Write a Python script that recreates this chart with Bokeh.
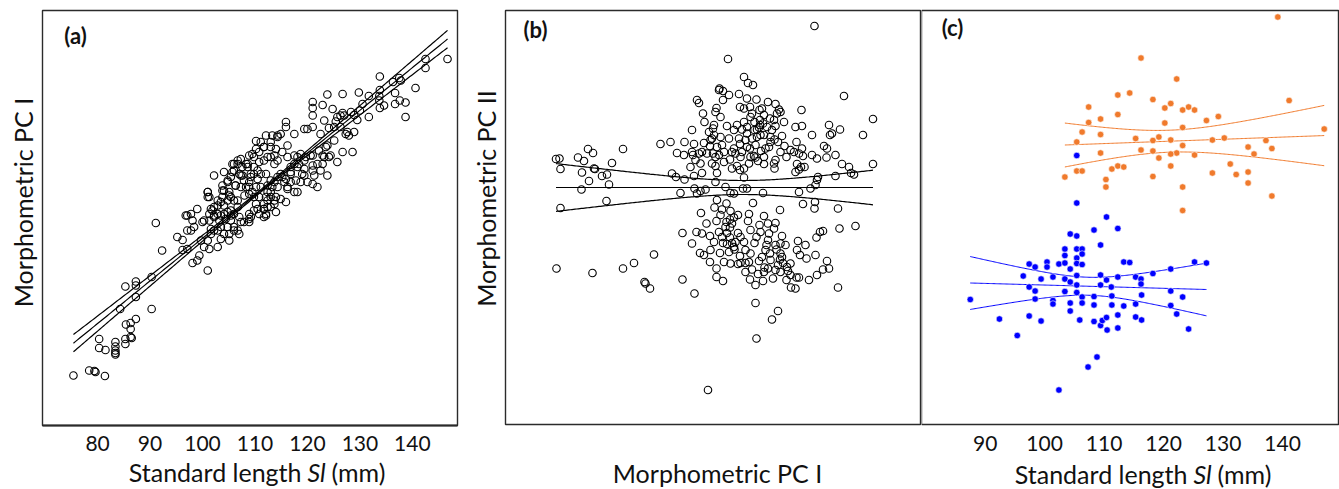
import numpy as np
from bokeh.plotting import figure
from bokeh.layouts import row
from bokeh.models import Range1d, Label
from bokeh.embed import file_html
from bokeh.resources import INLINE

FONT = "Lato"
INK = "#111111"
FRAME = "#2b2b2b"
ORANGE = "#F07A2C"
BLUE = "#0000FF"
HEIGHT = 489

# ---------------------------------------------------------------- panel (a)
# standard length (mm) and morphometric PC I score of every fish
a_sl = [
    75.4, 78.4, 79.4, 79.6, 81.4, 80.3, 80.3, 81.5, 83.4, 83.4,
    83.4, 83.4, 83.4, 85.3, 85.3, 85.4, 86.3, 86.3, 86.3, 87.3,
    86.5, 85.3, 84.3, 87.3, 87.3, 87.3, 90.3, 90.3, 91.1, 92.3,
    95.2, 96.2, 97.1, 97.8, 99.0, 98.1, 97.8, 97.1, 96.2, 97.1,
    98.1, 99.0, 99.4, 100.3, 101.0, 101.0, 101.3, 101.6, 102.2, 102.9,
    103.5, 104.1, 105.1, 105.1, 106.0, 106.0, 106.7, 107.0, 105.4, 104.4,
    104.8, 103.5, 102.9, 101.6, 99.7,
    115.9, 115.9, 117.5, 114.9, 113.3, 114.3, 112.1, 119.4, 116.2, 116.2,
    115.2, 114.3, 114.0, 113.0, 111.7, 111.1, 110.2, 110.2, 109.5, 108.9,
    108.6, 109.8, 110.8, 111.7, 112.4, 113.0, 113.7, 113.7, 112.1, 111.1,
    110.5, 109.8, 109.2, 108.9, 108.3, 107.3, 106.7, 106.0, 106.0, 107.0,
    107.6, 107.9, 108.3, 108.9, 107.3, 106.3, 105.7, 105.4, 104.8, 103.8,
    104.1, 105.1, 105.4, 106.0, 106.7, 104.8, 103.8, 103.5, 102.9, 102.2,
    101.9, 101.3, 101.0, 101.0, 102.2, 96.8, 98.4, 100.0, 101.3, 102.2,
    102.9, 103.5, 104.1, 104.8, 105.4, 106.0, 107.0, 107.3, 107.9, 108.9,
    108.9, 108.9, 109.8, 110.2, 110.5, 111.7, 111.7, 110.8, 109.5, 110.2,
    111.1, 112.4, 113.0, 114.0, 113.7, 111.7, 112.1,
    126.7, 123.8, 122.9, 121.0, 121.0, 121.0, 124.8, 125.7, 126.3, 126.7,
    127.0, 128.3, 128.9, 129.5, 128.9, 127.6, 127.9, 127.3, 126.3, 125.1,
    124.1, 123.2, 121.0, 120.0, 122.5, 128.6, 126.7, 125.7, 124.1, 124.4,
    123.5, 122.9, 122.9, 122.5, 123.8, 121.0, 121.0, 121.3, 121.9, 121.0,
    120.0, 118.7, 119.0, 118.1, 118.4, 118.7, 119.7, 119.4, 117.5, 117.5,
    116.8, 116.8, 118.1, 117.5, 116.8, 116.2, 115.6, 115.2, 115.9, 114.0,
    113.7, 113.0, 112.4, 112.1, 112.4, 112.1, 114.3, 114.9, 113.3, 113.7,
    146.7, 142.5, 142.5, 140.6, 137.5, 137.8, 136.3, 136.7, 133.8, 133.8,
    133.7, 133.7, 133.8, 134.6, 136.7, 137.6, 138.7, 138.7, 131.7, 131.7,
    130.5, 129.8, 125.4, 130.0,
    105.7, 106.7, 107.6, 108.6, 109.8, 110.8, 111.7, 113.0, 114.3, 109.2,
    110.5, 107.3, 104.1, 104.8, 106.3, 103.8, 105.1, 102.9, 104.1, 101.6,
    102.2, 100.3, 103.2, 101.3, 101.0, 108.9, 108.0, 109.8, 106.7, 105.4,
    113.0, 114.3, 115.9, 116.8, 118.1, 119.4, 120.6, 122.2, 123.8, 125.1,
    117.8, 119.4, 121.0, 116.2, 114.9, 112.4, 111.7, 113.0, 109.2, 110.8,
    121.9, 123.2,
]
a_pc1 = [
    -3.00, -2.90, -2.91, -2.93, -3.01, -2.27, -2.45, -2.49, -2.33, -2.42,
    -2.50, -2.58, -2.55, -2.37, -2.27, -1.98, -2.23, -2.07, -1.95, -1.87,
    -2.25, -1.22, -1.67, -1.43, -1.20, -1.12, -1.67, -1.03, 0.05, -0.50,
    -0.23, -0.29, 0.20, 0.23, 0.33, 0.10, -0.10, -0.10, -0.49, -0.47,
    -0.75, -0.70, -0.60, -0.43, -0.90, -0.30, -0.47, -0.17, -0.10, -0.43,
    -0.27, -0.17, -0.17, -0.30, -0.10, -0.03, -0.10, -0.17, 0.10, 0.13,
    -0.03, -0.03, -0.10, -0.07, -0.30,
    2.07, 1.97, 1.83, 1.83, 1.80, 1.80, 1.80, 1.93, 1.60, 1.37,
    1.47, 1.30, 1.53, 1.57, 1.57, 1.67, 1.69, 1.53, 1.43, 1.40,
    1.17, 1.17, 1.27, 1.30, 1.37, 1.37, 1.40, 1.23, 1.03, 1.03,
    0.93, 1.03, 0.97, 0.87, 1.23, 1.33, 1.23, 1.23, 1.10, 1.03,
    1.00, 0.90, 0.77, 0.63, 0.77, 0.80, 1.07, 0.97, 0.90, 0.80,
    0.70, 0.67, 0.57, 0.50, 0.37, 0.50, 0.57, 0.47, 0.40, 0.37,
    0.30, 0.23, 0.67, 0.57, 1.00, 0.20, -0.03, 0.07, 0.10, 0.17,
    0.23, 0.20, 0.23, 0.27, 0.20, 0.23, 0.17, 0.07, 0.07, 0.23,
    0.13, 0.07, 0.30, 0.43, 0.33, 0.33, 0.43, 0.57, 0.67, 0.77,
    0.77, 0.67, 0.57, 0.57, 0.43, 0.17, 0.23,
    2.63, 2.62, 2.41, 2.47, 2.35, 2.20, 2.33, 2.17, 2.20, 2.25,
    2.20, 2.27, 2.21, 2.11, 1.87, 1.87, 1.80, 1.83, 1.97, 1.97,
    1.95, 2.10, 1.97, 1.93, 1.83, 1.47, 1.47, 1.27, 1.37, 1.40,
    1.57, 1.40, 1.23, 1.10, 1.00, 1.40, 1.20, 1.00, 0.77, 0.83,
    0.87, 0.87, 1.03, 1.37, 1.23, 1.43, 1.37, 1.13, 1.40, 1.23,
    1.17, 1.03, 0.67, 0.67, 0.87, 0.77, 0.87, 0.97, 0.47, 0.27,
    0.50, 0.67, 0.80, 0.57, 0.37, 0.20, 0.97, 1.03, 0.77, 0.87,
    3.33, 3.33, 3.15, 2.75, 2.95, 2.90, 2.87, 2.65, 2.98, 2.71,
    2.59, 2.50, 2.35, 2.40, 2.43, 2.50, 2.46, 2.17, 2.59, 2.17,
    2.43, 2.66, 2.08, 2.30,
    1.23, 1.30, 1.17, 1.23, 1.37, 1.47, 1.57, 1.67, 1.77, 1.03,
    1.10, 1.00, 1.07, 0.87, 0.80, 0.70, 0.60, 0.50, 0.40, 0.33,
    0.20, 0.10, 0.10, 0.57, 0.67, 0.77, 0.60, 0.57, 0.50, 0.30,
    0.90, 0.77, 0.93, 1.07, 1.17, 1.30, 1.40, 1.50, 1.60, 1.70,
    0.90, 1.00, 1.10, 0.73, 0.53, 0.50, 0.33, 0.37, 0.17, 0.23,
    1.23, 1.37,
]
a_sl_ticks = [80, 90, 100, 110, 120, 130, 140]

# ---------------------------------------------------------------- panel (b)
# morphometric PC I vs PC II scores
b_pc1 = [
    -3.75, -3.68, -3.66, -3.31, -3.19, -3.11, -3.01, -3.23, -2.99, -2.97,
    -2.83, -2.73, -3.09, -3.24, -2.69, -2.63, -2.41, -2.74, -3.66, -3.74,
    -3.02, -2.41, -2.19, -1.79, -1.98, -1.96, -1.87, -1.43, -1.35, -1.46,
    -1.66, -1.33,
    1.42, -0.31, 0.01, 0.09, 0.19, -0.48, -0.41, -0.29, -0.09, 0.07,
    0.26, 0.49, 0.64, 0.71, 0.67, 0.74, 0.32, 0.37, -0.07, 0.13,
    0.14, 0.33, 0.53, 0.39, 0.22, 0.01, -0.13, -0.03, 0.07, 0.22,
    0.31, 0.47, 0.57, 0.64, 0.81, 0.54, 0.41, 0.27, 0.17, 0.04,
    -0.09, -0.07, -0.19, -0.16, -0.23, -0.03, 0.07, 0.13, 0.21, 0.24,
    0.35, 0.44, 0.54, 0.62, 0.69, 0.77, 0.82, 0.86, 0.64, 0.61,
    0.62, 0.41, 0.29, 0.11, 0.01, -0.07, -0.13, -0.23, -0.27, -0.39,
    -0.49, -0.56, -0.63, -0.53, -0.56, -0.61, -0.66, -0.63, -0.69, -0.78,
    -0.81, -0.93, -0.89, -0.54, -0.56, -0.46, -0.41, -0.49, -0.59, -0.61,
    -0.33, -0.29, -0.43, -0.53, -0.67, -0.79, -0.83, -0.89, -0.99, -1.03,
    -1.01, -1.06, -1.18, -1.19, -1.18, -0.99, -0.83, -0.98, -0.86, -0.76,
    -0.93, -1.26, -0.56, -0.36, -0.26, -0.19, 0.01, -0.01, 0.07, 0.39,
    1.11, 1.34, 1.44, 1.47, 1.49, 1.37, 1.47, 1.66, 1.84, 1.67,
    1.61, 1.73, 1.71, 1.77, 1.93, 1.04, 1.17, 1.37, 1.06, 1.17,
    1.11, 1.07, 1.15, 1.22, 1.04, 1.11, 1.19, 1.97, 2.11, 2.15,
    2.21, 1.84, 2.01, 2.39, 2.59, 2.59, 1.01, 0.94, 0.27, 0.33,
    -0.53, -0.34, 0.19, 0.73, 1.19, 1.42, 1.89, -0.85, -0.58, -0.43,
    -0.26, -0.11, 0.11, 0.41, 0.09, -0.54, -0.34, -0.27, -0.19, -0.36,
    -0.27, -0.74, -0.94, -0.83, -0.67, -0.49, -0.33, -0.11, -0.27, -0.41,
    -0.33, -0.23, -0.16, -0.18, -0.29, -1.03, -0.87, -0.79, -0.67, -0.59,
    -0.47, -0.39, -0.54, -0.54, -0.41, -1.22, -0.98, -1.22, 0.04, -0.07,
    -0.06, -0.11, 0.04, 0.11, 0.17, 0.13, 0.24, 0.29, 0.31, 0.39,
    0.42, 0.49, 0.59, 0.64, 0.69, 0.73, 0.74, 0.66, 0.64, 0.46,
    0.44, 0.49, 0.34, 0.26, 0.22, 0.32, 0.49, 0.64, 0.61, 0.77,
    0.84, 0.77, 0.87, 0.89, 0.94, 0.86, 0.95, 1.04, 1.06, 1.11,
    1.31, 1.47, 1.59, 1.71, 1.67, 1.26, 1.13, 1.07, 1.24, 1.09,
    1.44, 1.46, 1.53, 1.59, 1.92, 2.24, 1.89, 0.24, 0.69, 0.57,
    0.26, -0.71, 0.79, 0.53, 0.14, -0.06, 1.16, 1.43,
    0.01, 0.17, 0.41, 0.61, -0.19, 0.07, 0.34, 0.51, 0.24, -0.06,
    0.14, 0.41, 0.74, -0.39, -0.46, -0.59, -0.73, -0.86, -0.96, -1.03,
    -0.46, -0.23, -0.43, -0.19, 0.01, 0.14, 0.37, 0.54, 0.41, 0.04,
    -0.26, -0.66, 0.74, 0.94, 0.51, 0.74,
]
b_pc2 = [
    0.57, 0.58, 0.37, 0.60, 0.53, 0.77, 0.69, 0.30, 0.38, 0.37,
    0.23, 0.26, 0.13, -0.04, 0.06, 0.49, 0.77, -0.27, -0.41, -1.62,
    -1.71, -1.62, -1.51, -1.34, -1.89, -1.92, -2.02, 0.28, 0.21, 0.91,
    0.87, 0.69,
    3.23, 2.57, 2.21, 2.09, 2.05, 1.98, 1.93, 1.85, 1.87, 1.78,
    1.76, 1.71, 1.67, 1.56, 1.48, 1.51, 1.55, 1.58, 1.61, 1.61,
    1.41, 1.35, 1.38, 1.28, 1.31, 1.31, 1.25, 1.16, 1.08, 1.15,
    1.20, 1.21, 1.15, 1.23, 1.31, 1.01, 1.05, 1.01, 0.98, 0.95,
    0.98, 0.87, 0.78, 0.68, 0.71, 0.71, 0.81, 0.78, 0.63, 0.60,
    0.73, 0.78, 0.91, 0.96, 0.91, 1.03, 0.83, 0.61, 0.55, 0.48,
    0.38, 0.47, 0.53, 0.48, 0.38, 0.35, 0.43, 0.38, 0.56, 0.51,
    0.65, 0.61, 0.48, 0.29, 0.43, 0.68, 0.95, 0.98, 1.11, 1.31,
    1.48, 1.75, 1.69, 1.59, 1.51, 1.41, 1.75, 1.95, 1.25, 1.18,
    1.23, 0.98, 0.85, 0.81, 0.83, 0.89, 0.71, 0.68, 0.87, 1.15,
    0.65, 0.41, 0.91, 0.65, 0.16, 0.23, 0.29, -0.02, -0.07, -0.04,
    -0.12, -0.11, 0.11, 0.01, -0.11, -0.12, 0.20, -0.02, -0.02, -0.11,
    -0.09, -0.02, 0.05, 0.15, 0.21, 0.65, 0.58, 0.60, 0.65, 0.78,
    0.83, 1.05, 1.25, 1.08, 1.16, 1.21, 1.23, 1.05, 0.91, 0.78,
    0.68, 0.47, 0.41, 0.41, 0.31, 0.36, 0.63, 0.47, 0.41, 0.29,
    0.26, 0.23, 1.83, 1.05, 1.37, 0.47, 0.71, 0.75, 1.16, 1.25,
    -0.25, -0.32, -0.31, -0.45, -0.33, -0.42, -0.42, -0.51, -0.40, -0.44,
    -0.47, -0.55, -0.53, -0.57, -0.67, -0.67, -0.69, -0.64, -0.60, -0.79,
    -0.80, -0.72, -0.89, -0.92, -0.97, -0.89, -0.91, -0.91, -1.00, -1.11,
    -1.13, -1.11, -1.09, -1.24, -1.29, -1.12, -1.31, -1.35, -1.49, -1.09,
    -1.31, -1.49, -1.62, -1.79, -1.87, -1.84, -2.12, -0.91, -1.25, -1.37,
    -1.51, -1.53, -1.51, -1.49, -1.64, -1.84, -1.95, -1.73, -1.47, -1.87,
    -1.60, -1.62, -1.82, -1.65, -1.55, -1.44, -1.32, -1.24, -1.15, -1.15,
    -1.25, -1.05, -0.89, -0.99, -1.11, -0.75, -0.72, -0.71, -0.82, -0.97,
    -1.15, -1.39, -1.59, -1.67, -1.75, -1.85, -2.00, -2.02, -1.80, -1.80,
    -1.85, -1.75, -1.64, -1.62, -1.47, -1.42, -1.35, -1.25, -1.15, -1.07,
    -1.35, -1.00, -0.89, -0.87, -0.82, -0.77, -2.00, -2.31, -2.47, -2.64,
    -3.02, -4.05, -1.51, -1.32, -0.85, -0.99, 1.55, -0.29,
    1.58, 1.48, 1.45, 1.35, 1.15, 1.21, 1.05, 0.81, 0.85, 0.61,
    0.61, 0.61, 0.71, 0.71, 1.01, 1.05, 0.68, 0.48, 0.55, 0.71,
    -0.55, -0.72, -0.99, -1.19, -1.09, -1.32, -1.39, -1.45, -1.69, -1.69,
    -1.52, -1.25, -1.69, -1.52, -0.92, -1.12,
]

# ---------------------------------------------------------------- panel (c)
# standard length (mm) vs PC II, two groups
orange_sl = [
    139.2, 116.2, 122.2, 112.3, 114.3, 118.2, 121.2, 120.2, 107.4, 123.2,
    124.2, 125.2, 112.3, 141.1, 109.4, 107.4, 127.2, 129.2, 120.2, 123.2,
    147.0, 106.3, 109.4, 119.2, 115.3, 118.2, 121.2, 128.2, 130.2, 137.2,
    105.4, 123.2, 134.2, 138.2, 116.2, 118.2, 122.2, 121.2, 109.4, 125.2,
    135.2, 119.2, 131.2, 112.3, 113.3, 111.3, 121.2, 105.4, 106.3, 103.4,
    118.2, 128.2, 132.2, 134.2, 134.2, 110.3, 110.3, 123.2, 138.2, 123.2,
]
orange_pc2 = [
    3.41, 2.59, 2.17, 1.85, 1.89, 1.76, 1.68, 1.59, 1.61, 1.55,
    1.61, 1.55, 1.46, 1.74, 1.37, 1.30, 1.34, 1.42, 1.29, 1.20,
    1.17, 1.11, 1.06, 1.01, 0.98, 0.94, 0.95, 0.95, 0.99, 0.94,
    0.91, 0.84, 0.81, 0.78, 0.75, 0.73, 0.69, 0.67, 0.69, 0.65,
    0.67, 0.59, 0.47, 0.43, 0.41, 0.37, 0.43, 0.33, 0.33, 0.21,
    0.22, 0.29, 0.26, 0.31, 0.09, 0.16, 0.01, 0.01, -0.17, -0.46,
]
blue_sl = [
    105.4, 105.4, 110.4, 112.3, 108.3, 104.3, 105.4, 109.4, 103.4, 105.4,
    106.3, 106.3, 103.4, 105.4, 113.3, 114.3, 125.2, 127.2, 97.4, 98.4,
    100.4, 100.4, 102.4, 103.4, 105.4, 106.3, 104.3, 121.2, 118.2, 96.4,
    101.4, 99.4, 103.4, 105.4, 109.4, 110.4, 112.3, 115.3, 116.2, 116.2,
    97.4, 98.4, 104.3, 105.4, 109.4, 111.2, 103.4, 105.4, 98.4, 101.4,
    101.4, 106.3, 108.3, 111.3, 116.3, 121.2, 123.2, 87.5, 104.3, 106.3,
    108.3, 111.3, 113.3, 115.3, 121.2, 104.3, 122.2, 92.4, 97.4, 99.4,
    105.9, 108.3, 109.4, 109.7, 110.4, 112.3, 115.3, 116.3, 110.5, 112.3,
    124.2, 95.4, 108.8, 107.3, 102.4,
]
blue_pc2 = [
    0.64, -0.31, -0.59, -0.82, -0.85, -0.93, -0.97, -1.15, -1.23, -1.23,
    -1.23, -1.33, -1.36, -1.41, -1.49, -1.50, -1.49, -1.51, -1.53, -1.59,
    -1.49, -1.59, -1.53, -1.51, -1.52, -1.54, -1.63, -1.63, -1.72, -1.77,
    -1.79, -1.83, -1.83, -1.76, -1.75, -1.85, -1.79, -1.79, -1.83, -1.93,
    -1.99, -2.07, -1.89, -1.95, -1.95, -1.99, -2.08, -2.10, -2.23, -2.26,
    -2.33, -2.19, -2.18, -2.17, -2.15, -2.07, -2.19, -2.24, -2.31, -2.31,
    -2.35, -2.35, -2.37, -2.33, -2.36, -2.47, -2.53, -2.63, -2.57, -2.67,
    -2.65, -2.68, -2.76, -2.66, -2.60, -2.55, -2.59, -2.65, -2.85, -2.81,
    -2.83, -2.96, -3.39, -3.59, -4.05,
]
c_sl_ticks = [90, 100, 110, 120, 130, 140]

# regression fits: [intercept, slope]; confidence band: [centre x, half-width at centre, spread per unit x]
a_fit = [-8.785, 0.0853]
a_band = [111.0, 0.025, 0.0048]
b_fit = [0.0, 0.0]
b_band = [0.0, 0.14, 0.122]
orange_fit = [0.402, 0.00433]
orange_band = [121.0, 0.22, 0.0216]
blue_fit = [-1.624, -0.00327]
blue_band = [107.4, 0.18, 0.025]

# axis limits of each plotting box
a_xlim, a_ylim = (69.5, 148.6), (-4.0, 4.3)
b_xlim, b_ylim = (-4.76, 3.54), (-4.74, 3.54)
c_xlim, c_ylim = (79.3, 149.4), (-4.74, 3.54)


def panel_figure(width, box, xlim, ylim):
    """A figure whose canvas holds the plotting box plus its margins.

    box = (left, right, top, bottom) pixel edges of the plotting box on the
    canvas; the ranges are widened so xlim/ylim fall exactly on that box."""
    left, right, top, bottom = box
    sx = (xlim[1] - xlim[0]) / (right - left)
    sy = (ylim[1] - ylim[0]) / (bottom - top)
    p = figure(
        width=width, height=HEIGHT,
        x_range=Range1d(xlim[0] - left * sx, xlim[1] + (width - right) * sx),
        y_range=Range1d(ylim[0] - (HEIGHT - bottom) * sy, ylim[1] + top * sy),
        output_backend="svg", toolbar_location=None, title=None,
        x_axis_location=None, y_axis_location=None,
        min_border=0, min_border_left=0, min_border_right=0,
        min_border_top=0, min_border_bottom=0,
    )
    p.outline_line_color = None
    p.background_fill_color = "white"
    p.border_fill_color = "white"
    for g in p.grid:
        g.visible = False
    p.quad(left=[xlim[0]], right=[xlim[1]], bottom=[ylim[0]], top=[ylim[1]],
           fill_color=None, line_color=FRAME, line_width=1.4)
    return p


def add_text(p, x, y, text, size, align="center", baseline="middle",
             angle=0.0, style="normal", x_units="screen"):
    p.add_layout(Label(
        x=x, y=y, x_units=x_units, y_units="screen", text=text,
        text_font=FONT, text_font_size=f"{size}px", text_font_style=style,
        text_align=align, text_baseline=baseline, angle=angle, text_color=INK,
    ))


def tick_labels(p, ticks, y):
    for t in ticks:
        add_text(p, t, y, str(t), 21, baseline="alphabetic", x_units="data")


def draw_fit(p, xs, fit, band, color, width):
    xx = np.linspace(min(xs), max(xs), 200)
    yy = fit[0] + fit[1] * xx
    half = np.sqrt(band[1] ** 2 + (band[2] * (xx - band[0])) ** 2)
    for curve in (yy, yy + half, yy - half):
        p.line(xx, curve, line_color=color, line_width=width)


def sl_title(p, split, y):
    # "Standard length Sl (mm)" with the symbol set in italics
    add_text(p, split, y, "Standard length", 25, align="right", baseline="alphabetic")
    add_text(p, split + 6, y, "Sl", 25, align="left", baseline="alphabetic", style="italic")
    add_text(p, split + 30, y, "(mm)", 25, align="left", baseline="alphabetic")


# (a) PC I against standard length
pa = panel_figure(460, (42, 457, 10, 425), a_xlim, a_ylim)
pa.segment(x0=[a_xlim[0]], y0=[a_ylim[0]], x1=[a_xlim[1]], y1=[a_ylim[0]],
           line_color=FRAME, line_width=2.2)
draw_fit(pa, a_sl, a_fit, a_band, "black", 1.2)
pa.scatter(a_sl, a_pc1, marker="circle", size=7.5, fill_color=None,
           line_color="black", line_width=1.1)
tick_labels(pa, a_sl_ticks, 46)
add_text(pa, 75, 454.5, "(a)", 22, style="bold")
add_text(pa, 22, 287, "Morphometric PC I", 25, baseline="alphabetic", angle=np.pi / 2)
sl_title(pa, 301, 18)

# (b) PC II against PC I
pb = panel_figure(461, (45, 460, 10, 424), b_xlim, b_ylim)
draw_fit(pb, b_pc1, b_fit, b_band, "black", 1.2)
pb.scatter(b_pc1, b_pc2, marker="circle", size=7.5, fill_color=None,
           line_color="black", line_width=1.1)
add_text(pb, 75, 460, "(b)", 22, style="bold")
add_text(pb, 25, 291, "Morphometric PC II", 25, baseline="alphabetic", angle=np.pi / 2)
add_text(pb, 257, 17, "Morphometric PC I", 25, baseline="alphabetic")

# (c) PC II against standard length, by group
pc = panel_figure(418, (0, 417, 10, 424), c_xlim, c_ylim)
draw_fit(pc, orange_sl, orange_fit, orange_band, ORANGE, 1.0)
draw_fit(pc, blue_sl, blue_fit, blue_band, BLUE, 1.0)
pc.scatter(orange_sl, orange_pc2, marker="circle", size=6.5, fill_color=ORANGE,
           line_color="white", line_width=0.6)
pc.scatter(blue_sl, blue_pc2, marker="circle", size=6.5, fill_color=BLUE,
           line_color="white", line_width=0.6)
tick_labels(pc, c_sl_ticks, 46)
add_text(pc, 31, 462, "(c)", 22, style="bold")
sl_title(pc, 266, 16)

layout = row(pa, pb, pc)
open("out.html", "w").write(file_html(layout, INLINE, title="Morphometric PCA"))
